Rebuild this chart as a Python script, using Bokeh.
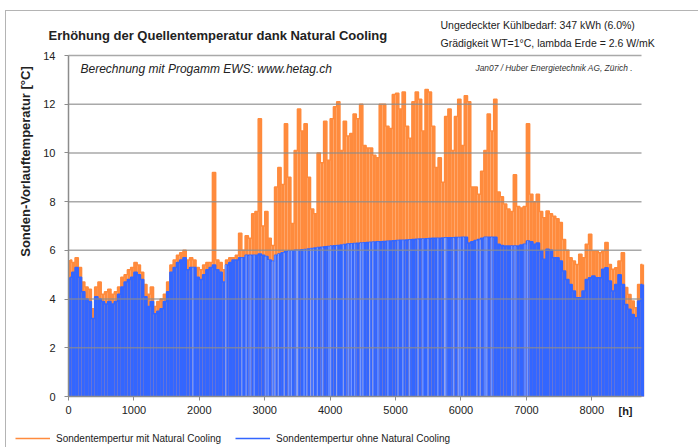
import math
from bokeh.plotting import figure
from bokeh.models import (Range1d, Label, Legend, LegendItem, FixedTicker, ColumnDataSource)
from bokeh.embed import file_html
from bokeh.resources import INLINE

# ---- data (hourly simulation, read per 50 h bin) ----
bin_width = 50
hours = list(range(0, 8760, bin_width))

ohne = [
    4.9, 5.1, 5.3, 4.9, 4.3, 4.0, 3.9, 3.2, 4.1, 4.0,
    3.9, 3.8, 3.9, 3.8, 3.9, 4.2, 4.5, 4.7, 4.8, 4.9,
    5.1, 5.0, 4.8, 4.1, 3.7, 3.9, 3.4, 3.5, 3.6, 3.9,
    4.3, 5.1, 5.3, 5.5, 5.6, 5.7, 5.2, 5.3, 5.3, 4.9,
    4.8, 5.0, 5.2, 5.3, 5.4, 5.2, 5.1, 4.7, 5.4, 5.5,
    5.6, 5.6, 5.7, 5.7, 5.8, 5.8, 5.8, 5.8, 5.85, 5.8,
    5.75, 5.6, 5.55, 5.8, 5.85, 5.9, 5.95, 5.97, 5.98, 6.0,
    6.0, 6.02, 6.04, 6.06, 6.08, 6.1, 6.12, 6.13, 6.15, 6.16,
    6.18, 6.19, 6.2, 6.22, 6.24, 6.26, 6.27, 6.28, 6.29, 6.3,
    6.31, 6.32, 6.33, 6.34, 6.35, 6.35, 6.36, 6.37, 6.38, 6.39,
    6.4, 6.41, 6.42, 6.43, 6.44, 6.45, 6.46, 6.47, 6.47, 6.48,
    6.49, 6.5, 6.5, 6.5, 6.51, 6.52, 6.52, 6.52, 6.53, 6.53,
    6.54, 6.54, 6.3, 6.35, 6.4, 6.45, 6.5, 6.54, 6.54, 6.54,
    6.54, 6.25, 6.2, 6.18, 6.18, 6.18, 6.18, 6.18, 6.22, 6.25,
    6.38, 6.35, 6.25, 6.3, 5.97, 5.63, 6.05, 6.0, 5.7, 5.7,
    5.56, 5.15, 4.8, 4.6, 4.33, 4.05, 4.05, 4.33, 4.8, 4.88,
    4.95, 4.88, 4.88, 5.22, 5.29, 4.74, 4.33, 4.6, 5.0, 4.6,
    3.78, 3.58, 3.37, 3.23, 3.92, 4.6,
]

mit = [
    5.6, 5.5, 5.7, 5.3, 4.7, 4.5, 4.4, 3.6, 4.5, 4.7,
    4.2, 4.3, 4.4, 4.2, 4.3, 4.5, 4.9, 5.0, 5.2, 5.3,
    5.5, 5.4, 5.1, 4.6, 4.2, 4.5, 3.7, 3.9, 4.0, 4.2,
    4.7, 5.4, 5.6, 5.8, 5.9, 6.0, 5.6, 5.7, 5.6, 5.3,
    5.2, 5.4, 5.5, 5.5, 9.2, 5.6, 5.5, 5.2, 5.6, 5.7,
    5.7, 5.8, 6.7, 6.0, 6.6, 6.5, 7.5, 7.6, 11.4, 7.0,
    7.6, 6.5, 6.2, 8.6, 9.4, 8.7, 11.2, 9.0, 7.1, 10.1,
    11.8, 10.9, 11.2, 9.0, 7.7, 7.5, 10.0, 9.6, 11.3, 9.7,
    11.4, 11.9, 12.1, 10.1, 11.3, 10.7, 10.8, 11.6, 11.4, 12.0,
    10.3, 10.2, 10.2, 9.9, 9.8, 12.0, 12.0, 11.1, 11.0, 12.4,
    12.45, 11.8, 12.5, 11.1, 10.6, 12.1, 12.5, 12.2, 10.9, 12.6,
    12.5, 11.1, 9.4, 9.8, 8.8, 11.5, 11.8, 10.1, 11.5, 12.2,
    10.3, 12.35, 12.1, 8.6, 8.6, 8.3, 9.25, 10.1, 11.6, 10.9,
    12.2, 8.4, 8.2, 7.9, 7.7, 7.6, 9.1, 7.8, 7.74, 7.8,
    11.2, 8.3, 8.0, 8.3, 7.6, 7.34, 7.62, 7.5, 7.4, 7.3,
    7.14, 6.45, 6.0, 5.7, 5.56, 5.42, 5.84, 5.7, 6.25, 6.66,
    5.97, 5.97, 5.9, 5.97, 6.32, 5.42, 5.22, 5.29, 5.56, 5.9,
    4.47, 4.19, 3.92, 3.64, 4.6, 5.42,
]

# hours at which the curve without natural cooling shows short gaps (light stripes)
gap_hours = [
    1902, 2406, 2650, 2716, 2777, 2838, 3016, 3052, 3123, 3158, 3209, 3296, 3367,
    3408, 3484, 3504, 3601, 3642, 3703, 3743, 3804, 3881, 3982, 4008, 4099, 4201,
    4277, 4324, 4375, 4466, 4502, 4604, 4654, 4731, 4883, 5036, 5112, 5214, 5341,
    5417, 5494, 5646, 5748, 5768, 5885, 5961, 5987, 6038, 6241, 6292, 6368, 6394,
    6470, 6775, 6826, 6979, 7019,
]

x_ticks = [0, 1000, 2000, 3000, 4000, 5000, 6000, 7000, 8000]
y_ticks = [0, 2, 4, 6, 8, 10, 12, 14]
x_max = 8760
y_max = 14

title_text = "Erhöhung der Quellentemperatur dank Natural Cooling"
info_lines = ["Ungedeckter Kühlbedarf: 347 kWh (6.0%)",
              "Grädigkeit WT=1°C,  lambda Erde = 2.6 W/mK"]
note_left = "Berechnung mit Progamm EWS: www.hetag.ch"
note_right = "Jan07 / Huber Energietechnik AG, Zürich ."
y_label = "Sonden-Vorlauftemperatur [°C]"
x_unit = "[h]"
series_names = ["Sondentempertur mit Natural Cooling", "Sondentempertur ohne Natural Cooling"]

ORANGE = "#FF8B3D"
BLUE = "#3366FF"
GRID = "#8c8c8c"
FONT = "Liberation Sans"
TXT = "#222222"

# Page geometry of the reference: x 0..8760 -> px 68..641, y 0..14 -> px 396..55.
# The canvas starts at page (6, 11) (layout margin + border) and the frame fills the
# whole canvas, the axes are pinned at 0 with fixed_location, so every text lies in it.
PX_PER_H = (641 - 68) / x_max
PX_PER_C = (396 - 55) / y_max
CAN_X0, CAN_Y0, CAN_W, CAN_H = 6, 11, 693, 437
x_start = (CAN_X0 - 68) / PX_PER_H
x_end = (CAN_X0 + CAN_W - 68) / PX_PER_H
y_start = (396 - (CAN_Y0 + CAN_H)) / PX_PER_C
y_end = (396 - CAN_Y0) / PX_PER_C

src = ColumnDataSource(dict(
    x=[h + bin_width / 2 for h in hours],
    mit=mit,
    ohne=ohne,
))
gap_src = ColumnDataSource(dict(
    x=gap_hours,
    top=[ohne[h // bin_width] for h in gap_hours],
))

p = figure(width=CAN_W, height=CAN_H, output_backend="svg", toolbar_location=None,
           x_range=Range1d(x_start, x_end), y_range=Range1d(y_start, y_end),
           min_border_left=0, min_border_right=0, min_border_top=0, min_border_bottom=0)
p.styles = {"margin-left": "5px", "margin-top": "10px",
            "border-left": "1px solid #b4b4b4", "border-top": "1px solid #b4b4b4"}
p.outline_line_color = None
p.title.visible = False

p.vbar(x="x", top="mit", bottom=0, width=bin_width, source=src,
       fill_color=ORANGE, line_color=None)
s_mit = p.step(x="x", y="mit", mode="center", source=src, line_color=ORANGE, line_width=1.5,
               level="underlay")
p.vbar(x="x", top="ohne", bottom=0, width=bin_width, source=src,
       fill_color=BLUE, line_color=None)
s_ohne = p.step(x="x", y="ohne", mode="center", source=src, line_color=BLUE, line_width=1.5)
p.segment(x0="x", x1="x", y0=0, y1="top", source=gap_src,
          line_color="white", line_alpha=0.35, line_width=1.2)

# horizontal grid lines over the data, only across the data range
p.xgrid.visible = False
p.ygrid.visible = False
gy = y_ticks[1:]
p.segment(x0=[0] * len(gy), x1=[x_max] * len(gy), y0=gy, y1=gy,
          line_color=GRID, line_width=1.5, line_alpha=0.75, level="overlay")

# axes, pinned at x=0 / y=0
p.xaxis.ticker = FixedTicker(ticks=x_ticks)
p.yaxis.ticker = FixedTicker(ticks=y_ticks)
p.xaxis.bounds = (0, x_max)
p.yaxis.bounds = (0, y_max)
p.xaxis.fixed_location = 0
p.yaxis.fixed_location = 0
for ax in (p.xaxis[0], p.yaxis[0]):
    ax.axis_line_color = GRID
    ax.axis_line_width = 1.5
    ax.major_tick_line_color = GRID
    ax.major_tick_out = 4
    ax.major_tick_in = 0
    ax.minor_tick_line_color = None
    ax.major_label_text_font = FONT
    ax.major_label_text_font_size = "11px"
    ax.major_label_text_color = TXT
p.yaxis.major_label_standoff = 9
p.xaxis.major_label_standoff = 5

def lab(px, py, text, size, style="normal", color=TXT, align="left", angle=0.0):
    # page coordinates -> offsets from the frame's bottom-left corner
    p.add_layout(Label(x=px - CAN_X0, y=CAN_Y0 + CAN_H - py, x_units="screen", y_units="screen",
                       text=text, text_font=FONT, text_font_size=size,
                       text_font_style=style, text_baseline="middle", text_align=align,
                       angle=angle, text_color=color))

lab(48, 35, title_text, "13px", "bold")
lab(440, 24, info_lines[0], "10.5px")
lab(440, 42, info_lines[1], "10.5px")
lab(80, 68, note_left, "12px", "italic")
lab(475, 67, note_right, "8.4px", "italic", color="#333333")
lab(25, 161, y_label, "13px", "bold", align="center", angle=math.pi / 2)
lab(625, 410, x_unit, "11px", "bold", align="center")

legend = Legend(items=[LegendItem(label=series_names[0], renderers=[s_mit]),
                       LegendItem(label=series_names[1], renderers=[s_ohne])],
                location=(15 - CAN_X0, CAN_Y0 + CAN_H - 444), orientation="horizontal",
                glyph_width=35, glyph_height=12, label_height=12,
                label_standoff=6, spacing=14, padding=0, margin=0,
                label_text_font=FONT, label_text_font_size="10px",
                label_text_color=TXT,
                border_line_color=None, background_fill_alpha=0)
p.add_layout(legend, "center")

open("out.html", "w").write(file_html(p, INLINE))
